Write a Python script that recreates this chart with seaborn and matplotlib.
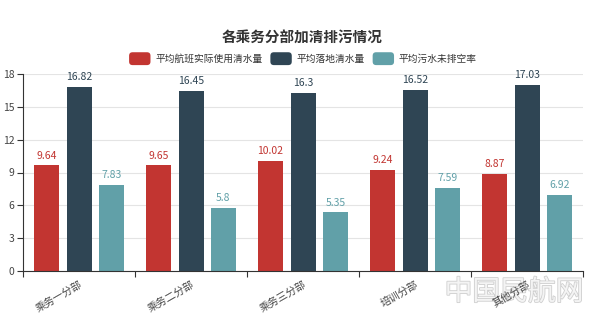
import matplotlib
matplotlib.use("Agg")
import matplotlib.pyplot as plt
import matplotlib.patheffects as pe
import seaborn as sns
import pandas as pd
import numpy as np
from matplotlib.patches import Patch, FancyBboxPatch
from matplotlib.legend_handler import HandlerPatch

categories = ["乘务一分部", "乘务二分部", "乘务三分部", "培训分部", "其他分部"]
series_names = ["平均航班实际使用清水量", "平均落地清水量", "平均污水未排空率"]
s1 = [9.64, 9.65, 10.02, 9.24, 8.87]
s2 = [16.82, 16.45, 16.3, 16.52, 17.03]
s3 = [7.83, 5.8, 5.35, 7.59, 6.92]
colors = ["#c23531", "#2f4554", "#61a0a8"]
yticks = [0, 3, 6, 9, 12, 15, 18]

sns.set_theme(style="white")
plt.rcParams['font.family'] = ['Noto Sans CJK SC', 'DejaVu Sans']

rows = []
for name, vals in zip(series_names, [s1, s2, s3]):
    for c, v in zip(categories, vals):
        rows.append({"cat": c, "series": name, "value": v})
df = pd.DataFrame(rows)

fig = plt.figure(figsize=(6.0, 3.23), dpi=100)

fig.text(514/600, 1-292/323, "中国民航网", ha="center", va="center", fontsize=20,
         color="#f4f4f4", zorder=-5,
         path_effects=[pe.withStroke(linewidth=1.2, foreground="#cfcfcf")])

ax = fig.add_axes([23/600, 1-271/323, 560/600, (271-74)/323])
ax.patch.set_visible(False)

sns.barplot(data=df, x="cat", y="value", hue="series", palette=colors,
            width=0.87, dodge=True, ax=ax, legend=False, errorbar=None,
            saturation=1)

barw = 25/112
for cont, col in zip(ax.containers, colors):
    for p in cont.patches:
        cx = p.get_x() + p.get_width()/2
        p.set_x(cx - barw/2)
        p.set_width(barw)
        p.set_edgecolor("none")
    labels = [f"{v:g}" for v in cont.datavalues]
    ax.bar_label(cont, labels=labels, padding=3.5, color=col, fontsize=7.5)

ax.set_xlim(-0.5, len(categories)-0.5)
ax.set_ylim(0, 18)
ax.set_yticks(yticks)
ax.set_yticklabels([str(t) for t in yticks], fontsize=7.5, color="#444444")
ax.yaxis.grid(True, color="#e4e4e4", linewidth=0.8)
ax.set_axisbelow(True)

ax.set_xticks(np.arange(-0.5, len(categories)), labels=[])
ax.set_xticks(np.arange(len(categories)), minor=True)
ax.set_xticklabels(categories, minor=True, rotation=30, ha="right",
                   rotation_mode="anchor", fontsize=7.5, color="#444444")
ax.tick_params(axis="x", which="major", direction="out", length=4, color="#333333", width=0.8, bottom=True)
ax.tick_params(axis="x", which="minor", length=0, pad=6)
ax.tick_params(axis="y", direction="out", length=4, color="#333333", width=0.8, left=True, pad=2)

for s in ["top", "right"]:
    ax.spines[s].set_visible(False)
for s in ["left", "bottom"]:
    ax.spines[s].set_color("#333333")
    ax.spines[s].set_linewidth(0.8)
ax.set_xlabel("")
ax.set_ylabel("")

fig.text(302/600, 1-38/323, "各乘务分部加清排污情况", ha="center", va="center",
         fontsize=10.5, fontweight="bold", color="#333333")

class RoundHandler(HandlerPatch):
    def create_artists(self, legend, orig_handle, xdescent, ydescent, width, height, fontsize, trans):
        p = FancyBboxPatch((-xdescent, -ydescent - 1.5), width, height + 3,
                           boxstyle="round,pad=0,rounding_size=2.5",
                           facecolor=orig_handle.get_facecolor(), edgecolor="none",
                           transform=trans)
        return [p]

handles = [Patch(facecolor=c, label=n) for c, n in zip(colors, series_names)]
fig.legend(handles=handles, loc="center", bbox_to_anchor=(303/600, 1-59/323),
           ncol=3, frameon=False, fontsize=7, handlelength=2.2, handleheight=1.0,
           handletextpad=0.5, columnspacing=0.8, labelcolor="#333333",
           handler_map={Patch: RoundHandler()})

fig.savefig("out.png", dpi=100)
